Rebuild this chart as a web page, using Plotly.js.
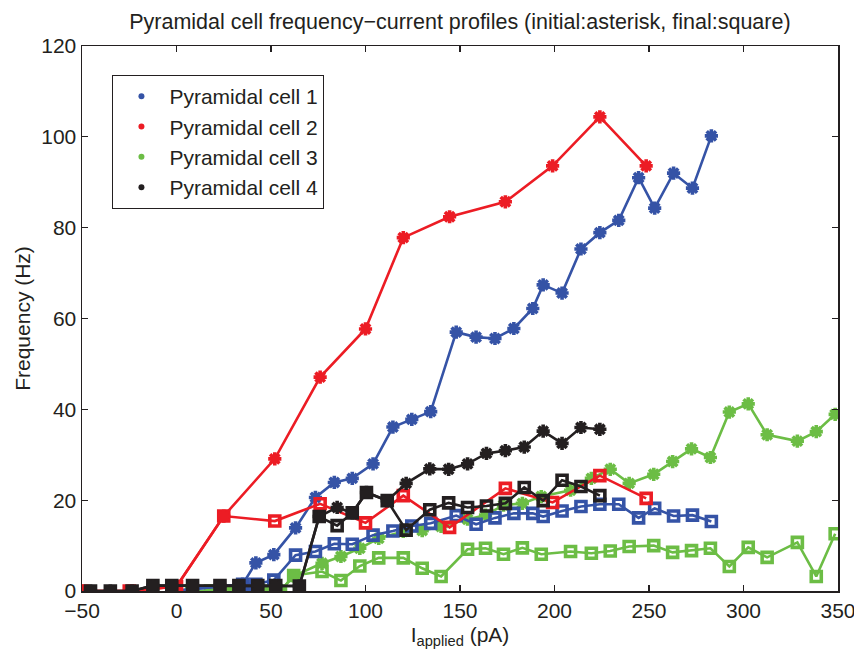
<!DOCTYPE html>
<html>
<head>
<meta charset="utf-8">
<script src="https://cdn.plot.ly/plotly-3.0.1.min.js"></script>
<style>html,body{margin:0;padding:0;background:#fff;}#chart{width:854px;height:658px;}</style>
</head>
<body>
<div id="chart"></div>
<script>
// ---- data ----
var cellNames = ["Pyramidal cell 1", "Pyramidal cell 2", "Pyramidal cell 3", "Pyramidal cell 4"];
var cellColors = ["#3553a6", "#ec1c24", "#6cbd45", "#231f20"];

var x1 = [-2, 35, 42, 51.5, 63, 73.5, 83.5, 93, 104, 114.5, 124.5, 134.5, 148, 158.5, 168.5, 178.5, 188.5, 194, 204, 214, 224, 234, 244.5, 253, 263, 273, 283];
var init1 = [0, 1.5, 6.2, 8.0, 13.9, 20.6, 23.9, 24.8, 28.0, 36.1, 37.8, 39.5, 57.0, 55.9, 55.6, 57.8, 62.2, 67.4, 65.6, 75.3, 78.9, 81.6, 91.0, 84.3, 92.0, 88.7, 100.2];
var final1 = [0, 1.5, 1.5, 2.4, 7.9, 8.7, 10.4, 10.3, 12.3, 13.2, 14.3, 14.9, 16.6, 14.7, 16.1, 17.1, 17.1, 16.4, 17.6, 18.6, 19.1, 19.1, 16.1, 18.2, 16.5, 16.7, 15.3];

var x2 = [-50, -25, 0, 25, 52, 76, 100, 120, 144.5, 174, 199, 224, 248.5];
var init2 = [0, 0, 1, 16.5, 29.1, 47.1, 57.7, 77.8, 82.4, 85.7, 93.6, 104.4, 93.6];
var final2 = [0, 0, 1, 16.5, 15.4, 19.2, 15.0, 21.0, 14.0, 22.6, 19.5, 25.4, 20.4];

var x3 = [8, 18, 28, 38, 48, 55, 62, 77, 87, 97, 107, 120, 130, 140, 154, 163.5, 173, 183, 193, 208.5, 219.5, 229.5, 239.5, 252.5, 262.5, 272.5, 282.5, 292.5, 302.5, 312.5, 328.5, 338.5, 348.5];
var init3 = [0, 0, 0, 0, 0, 0, 3.3, 6.1, 7.6, 9.4, 11.6, 13.1, 13.3, 14.2, 15.8, 16.7, 18.9, 19.3, 20.8, 22.2, 24.8, 26.8, 23.7, 25.7, 28.5, 31.3, 29.4, 39.4, 41.2, 34.4, 33.0, 35.1, 38.9];
var final3 = [0, 0, 0, 0, 0, 0, 3.4, 4.3, 2.3, 5.5, 7.3, 7.3, 5.0, 3.2, 9.2, 9.4, 8.1, 9.5, 8.1, 8.7, 8.3, 8.8, 9.8, 10.0, 8.5, 8.9, 9.4, 5.4, 9.6, 7.4, 10.7, 3.2, 12.6];

var x4 = [-45.5, -35, -23.5, -12.5, -2.5, 8.5, 23, 33, 43, 52.5, 65, 75.5, 85, 93, 100.5, 111.5, 121.5, 134, 144, 154, 164, 174, 184, 194, 204, 214, 224];
var init4 = [0, 0, 0, 1.2, 1.2, 1.2, 1.2, 1.2, 1.2, 1.2, 1.1, 16.4, 18.4, 17.2, 21.7, 19.9, 23.7, 26.9, 26.8, 28.0, 30.3, 30.9, 31.7, 35.2, 32.5, 36.0, 35.6];
var final4 = [0, 0, 0, 1.2, 1.2, 1.2, 1.2, 1.2, 1.2, 1.2, 1.1, 16.4, 14.4, 17.2, 21.7, 19.9, 13.4, 17.9, 19.4, 18.4, 18.7, 19.3, 22.8, 19.9, 24.4, 23.0, 21.0];

var xTicks = [-50, 0, 50, 100, 150, 200, 250, 300, 350];
var yTicks = [0, 20, 40, 60, 80, 100, 120];

var titleText = "Pyramidal cell frequency\u2212current profiles (initial:asterisk, final:square)";
var xTitle = "I<sub>applied</sub> (pA)";
var yTitle = "Frequency (Hz)";

// ---- build traces ----
var cells = [
  {x: x1, init: init1, fin: final1, idx: 0},
  {x: x2, init: init2, fin: final2, idx: 1},
  {x: x3, init: init3, fin: final3, idx: 2},
  {x: x4, init: init4, fin: final4, idx: 3}
];
var drawOrder = [2, 0, 1, 3];
var traces = [];
drawOrder.forEach(function (k) {
  var c = cells[k];
  var col = cellColors[c.idx];
  traces.push({
    x: c.x, y: c.fin, type: "scatter", mode: "lines+markers", showlegend: false, hoverinfo: "skip",
    line: {color: col, width: 2.6},
    marker: {symbol: "square-open", size: 10, color: col, line: {color: col, width: 3.6}}
  });
  traces.push({
    x: c.x, y: c.init, type: "scatter", mode: "lines+markers", showlegend: false, hoverinfo: "skip",
    line: {color: col, width: 2.6},
    marker: {symbol: "asterisk-open", size: 11, color: col, line: {color: col, width: 3.6}}
  });
});
// legend entries (dot markers)
for (var i = 0; i < 4; i++) {
  traces.push({
    x: [null], y: [null], type: "scatter", mode: "markers", name: cellNames[i],
    legendgroup: "g" + i, showlegend: true,
    marker: {symbol: "circle", size: 6, color: cellColors[i]}
  });
}

var fontFam = "'Liberation Sans', Arial, Helvetica, sans-serif";
var layout = {
  width: 854, height: 658,
  paper_bgcolor: "#fff", plot_bgcolor: "#fff",
  margin: {l: 82, r: 16, t: 46, b: 67},
  font: {family: fontFam, color: "#231f20", size: 21},
  title: {text: titleText, font: {size: 21.5, family: fontFam, color: "#231f20"}, x: 0.5385, xanchor: "center", y: 0.968, yanchor: "middle"},
  xaxis: {
    range: [-50, 350], tickvals: xTicks, ticktext: xTicks.map(function (v) { return v < 0 ? "\u2212" + Math.abs(v) : String(v); }),
    ticks: "inside", ticklen: 6, tickwidth: 1.2, tickcolor: "#231f20",
    showline: true, linecolor: "#231f20", linewidth: 1.5, mirror: "ticks",
    showgrid: false, zeroline: false, ticklabeloverflow: "allow",
    tickfont: {size: 21}, title: {text: xTitle, font: {size: 21}, standoff: 6}
  },
  yaxis: {
    range: [0, 120], tickvals: yTicks,
    ticks: "inside", ticklen: 6, tickwidth: 1.2, tickcolor: "#231f20",
    showline: true, linecolor: "#231f20", linewidth: 1.5, mirror: "ticks",
    showgrid: false, zeroline: false,
    tickfont: {size: 21}, title: {text: yTitle, font: {size: 21}, standoff: 5}
  },
  legend: {
    x: 0.04, y: 0.947, xanchor: "left", yanchor: "top",
    bgcolor: "#fff", bordercolor: "#231f20", borderwidth: 1.2,
    font: {size: 21}, tracegroupgap: 0, itemwidth: 46, traceorder: "grouped"
  },
  showlegend: true
};

Plotly.newPlot("chart", traces, layout, {displayModeBar: false, staticPlot: true});
</script>
</body>
</html>
